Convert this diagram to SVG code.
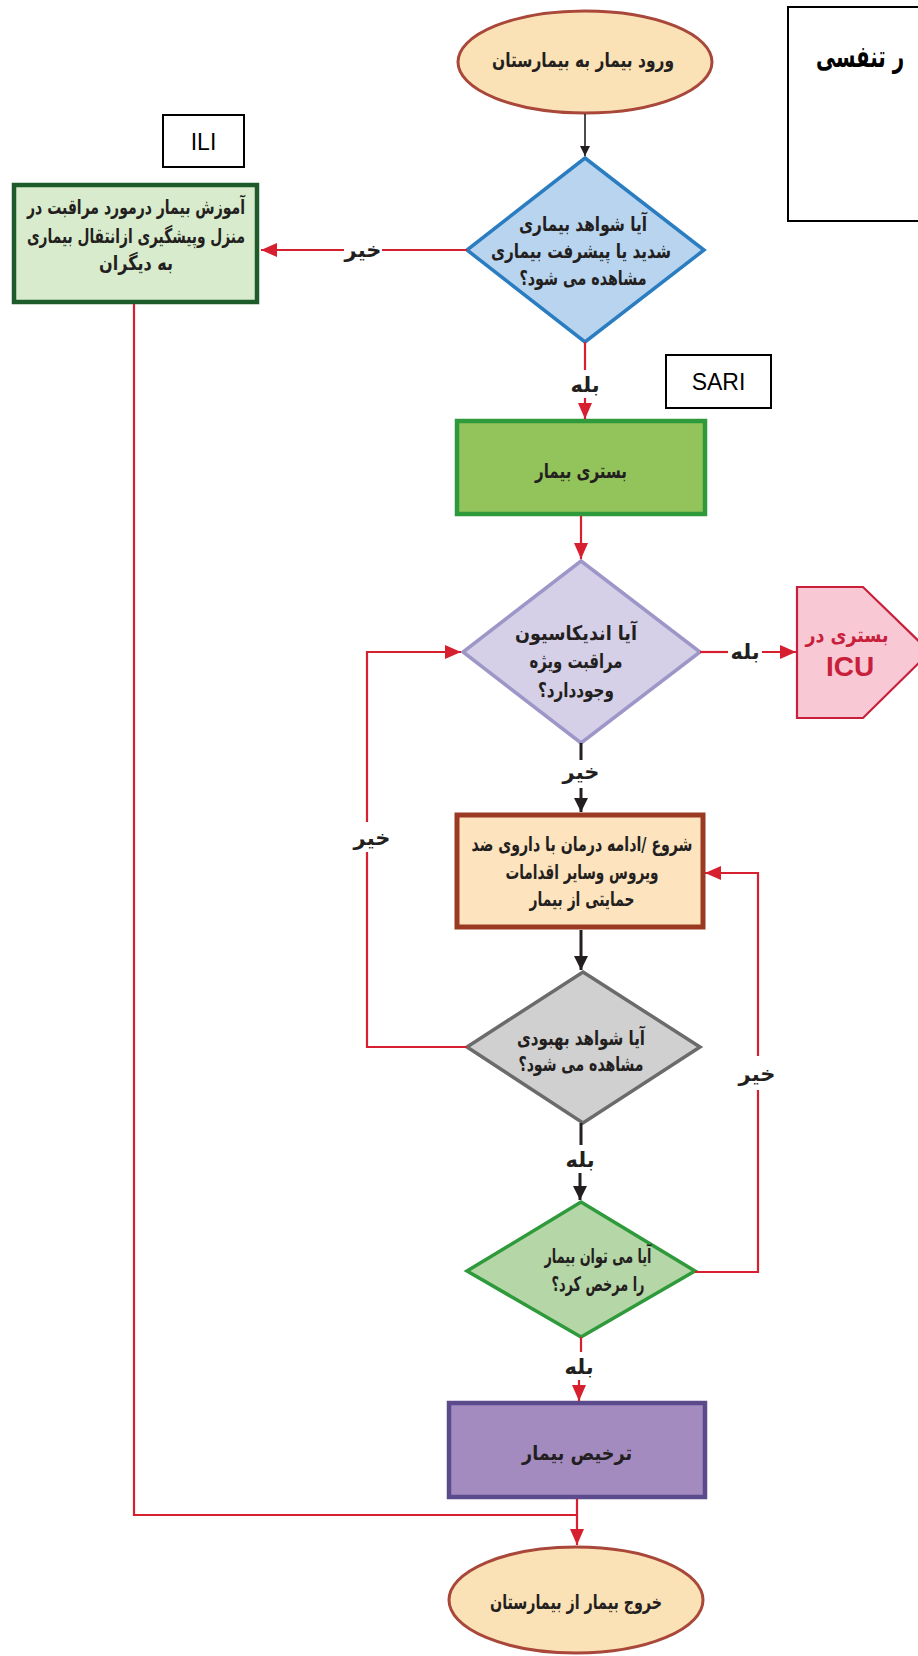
<svg xmlns="http://www.w3.org/2000/svg" width="918" height="1656" viewBox="0 0 918 1656">
<style>
.t{font-family:"DejaVu Sans",sans-serif;font-weight:bold;font-size:20px;fill:#231f20;text-anchor:middle}
.lbl{font-family:"DejaVu Sans",sans-serif;font-weight:bold;font-size:21px;fill:#231f20;text-anchor:middle}
.lat{font-family:"Liberation Sans",Arial,sans-serif;font-size:23px;fill:#000;text-anchor:middle}
.red{fill:none;stroke:#d7202f;stroke-width:2.2}
.blk1{fill:none;stroke:#231f20;stroke-width:1.6}
.blk3{fill:none;stroke:#231f20;stroke-width:3}
.tag{fill:#fff;stroke:#000;stroke-width:2}
</style>
<defs>
<marker id="ar" markerUnits="userSpaceOnUse" markerWidth="16" markerHeight="14" refX="16" refY="7" orient="auto"><path d="M0,0 L16,7 L0,14 z" fill="#d7202f"/></marker>
<marker id="abs" markerUnits="userSpaceOnUse" markerWidth="10" markerHeight="10" refX="10" refY="5" orient="auto"><path d="M0,0 L10,5 L0,10 z" fill="#231f20"/></marker>
<marker id="abb" markerUnits="userSpaceOnUse" markerWidth="14" markerHeight="14" refX="14" refY="7" orient="auto"><path d="M0,0 L14,7 L0,14 z" fill="#231f20"/></marker>
</defs>
<rect width="918" height="1656" fill="#fff"/>

<g id="title">
<rect x="788" y="7" width="150" height="214" class="tag"/>
<text x="860" y="67" font-family="DejaVu Sans,sans-serif" font-weight="bold" font-size="30" fill="#000" text-anchor="middle" textLength="88" lengthAdjust="spacingAndGlyphs">ر تنفسی</text>
</g>

<g id="ili-tag"><rect x="163" y="115" width="81" height="52" class="tag"/><text x="203.5" y="150" class="lat">ILI</text></g>
<g id="sari-tag"><rect x="666" y="355" width="105" height="53" class="tag"/><text x="718.5" y="390" class="lat">SARI</text></g>

<g id="start">
<ellipse cx="585" cy="62" rx="127" ry="51" fill="#fbe1b6" stroke="#a8473a" stroke-width="3"/>
<text x="583" y="67" class="t" textLength="182" lengthAdjust="spacingAndGlyphs">ورود بیمار به بیمارستان</text>
</g>

<g id="q-severe">
<polygon points="585,158 704,250 585,342 467,250" fill="#b9d4ee" stroke="#2a7dc0" stroke-width="3.5"/>
<text x="583" y="231" class="t" textLength="128" lengthAdjust="spacingAndGlyphs">آیا شواهد بیماری</text>
<text x="581" y="258" class="t" textLength="180" lengthAdjust="spacingAndGlyphs">شدید یا پیشرفت بیماری</text>
<text x="583" y="285" class="t" textLength="127" lengthAdjust="spacingAndGlyphs">مشاهده می شود؟</text>
</g>

<g id="home-care">
<rect x="14" y="185" width="243" height="117" fill="#d8ebcc" stroke="#1d5b2a" stroke-width="4.5"/>
<text x="136" y="214" class="t" textLength="218" lengthAdjust="spacingAndGlyphs">آموزش بیمار درمورد مراقبت در</text>
<text x="136" y="243" class="t" textLength="218" lengthAdjust="spacingAndGlyphs">منزل وپیشگیری ازانتقال بیماری</text>
<text x="136" y="270" class="t" textLength="74" lengthAdjust="spacingAndGlyphs">به دیگران</text>
</g>

<g id="admit">
<rect x="457" y="421" width="248" height="93" fill="#93c35b" stroke="#2e9a3b" stroke-width="4.5"/>
<text x="581" y="478" class="t" textLength="92" lengthAdjust="spacingAndGlyphs">بستری بیمار</text>
</g>

<g id="q-icu">
<polygon points="581,561 700,652 581,743 463,652" fill="#d5cfe8" stroke="#9d97c8" stroke-width="3.5"/>
<text x="576" y="640" class="t" font-size="21" textLength="122" lengthAdjust="spacingAndGlyphs">آیا اندیکاسیون</text>
<text x="576" y="668" class="t" font-size="21" textLength="93" lengthAdjust="spacingAndGlyphs">مراقبت ویژه</text>
<text x="576" y="697" class="t" font-size="21" textLength="76" lengthAdjust="spacingAndGlyphs">وجوددارد؟</text>
</g>

<g id="icu">
<polygon points="797,587 863,587 930,652 863,718 797,718" fill="#f8c9d5" stroke="#c8203a" stroke-width="2.2"/>
<text x="847" y="642" class="t" style="fill:#c8203a" textLength="83" lengthAdjust="spacingAndGlyphs">بستری در</text>
<text x="850" y="676" font-family="Liberation Sans,Arial,sans-serif" font-weight="bold" font-size="28" fill="#c8203a" text-anchor="middle">ICU</text>
</g>

<g id="treat">
<rect x="457" y="815" width="246" height="112" fill="#fde3be" stroke="#9a3a22" stroke-width="5"/>
<text x="582" y="851" class="t" textLength="221" lengthAdjust="spacingAndGlyphs">شروع /ادامه درمان با داروی ضد</text>
<text x="582" y="879" class="t" textLength="153" lengthAdjust="spacingAndGlyphs">ویروس وسایر اقدامات</text>
<text x="582" y="906" class="t" textLength="105" lengthAdjust="spacingAndGlyphs">حمایتی از بیمار</text>
</g>

<g id="q-improve">
<polygon points="583,972 700,1047 583,1123 467,1047" fill="#d0d0d0" stroke="#6b6b6b" stroke-width="3.5"/>
<text x="581" y="1045" class="t" textLength="128" lengthAdjust="spacingAndGlyphs">آیا شواهد بهبودی</text>
<text x="581" y="1071" class="t" textLength="125" lengthAdjust="spacingAndGlyphs">مشاهده می شود؟</text>
</g>

<g id="q-discharge">
<polygon points="581,1202 695,1271 581,1337 467,1271" fill="#b5d6a7" stroke="#2e9a3b" stroke-width="3.5"/>
<text x="598" y="1263" class="t" textLength="107" lengthAdjust="spacingAndGlyphs">آیا می توان بیمار</text>
<text x="598" y="1291" class="t" textLength="93" lengthAdjust="spacingAndGlyphs">را مرخص کرد؟</text>
</g>

<g id="discharge">
<rect x="449" y="1403" width="256" height="94" fill="#a38bc0" stroke="#5b4b8c" stroke-width="4.5"/>
<text x="577" y="1460" class="t" font-size="21" textLength="110" lengthAdjust="spacingAndGlyphs">ترخیص بیمار</text>
</g>

<g id="end">
<ellipse cx="576" cy="1600" rx="127" ry="53" fill="#fbe1b6" stroke="#a8473a" stroke-width="3"/>
<text x="576" y="1609" class="t" textLength="172" lengthAdjust="spacingAndGlyphs">خروج بیمار از بیمارستان</text>
</g>

<g id="connectors">
<line x1="585" y1="114" x2="585" y2="156" class="blk1" marker-end="url(#abs)"/>
<path d="M467 250 H382" class="red"/>
<path d="M344 250 H261" class="red" marker-end="url(#ar)"/>
<text x="363" y="257" class="lbl">خیر</text>
<path d="M585 342 V370" class="red"/>
<path d="M585 398 V419" class="red" marker-end="url(#ar)"/>
<text x="585" y="392" class="lbl">بله</text>
<path d="M581 516 V559" class="red" marker-end="url(#ar)"/>
<path d="M700 652 H728" class="red"/>
<path d="M762 652 H796" class="red" marker-end="url(#ar)"/>
<text x="745" y="659" class="lbl">بله</text>
<path d="M581 743 V760" class="blk3"/>
<path d="M581 788 V812" class="blk3" marker-end="url(#abb)"/>
<text x="581" y="779" class="lbl">خیر</text>
<path d="M581 930 V970" class="blk3" marker-end="url(#abb)"/>
<path d="M581 1123 V1145" class="blk3"/>
<path d="M580 1173 V1200" class="blk3" marker-end="url(#abb)"/>
<text x="580" y="1167" class="lbl" font-size="22">بله</text>
<path d="M581 1337 V1352" class="red"/>
<path d="M579 1380 V1401" class="red" marker-end="url(#ar)"/>
<text x="579" y="1374" class="lbl">بله</text>
<path d="M577 1499 V1545" class="red" marker-end="url(#ar)"/>
<path d="M134 304 V1515 H577" class="red"/>
<path d="M467 1047 H367 V852" class="red"/>
<path d="M367 822 V652 H461" class="red" marker-end="url(#ar)"/>
<text x="372" y="845" class="lbl">خیر</text>
<path d="M695 1272 H758 V1090" class="red"/>
<path d="M758 1056 V873 H705" class="red" marker-end="url(#ar)"/>
<text x="757" y="1081" class="lbl" font-size="23">خیر</text>
</g>
</svg>
